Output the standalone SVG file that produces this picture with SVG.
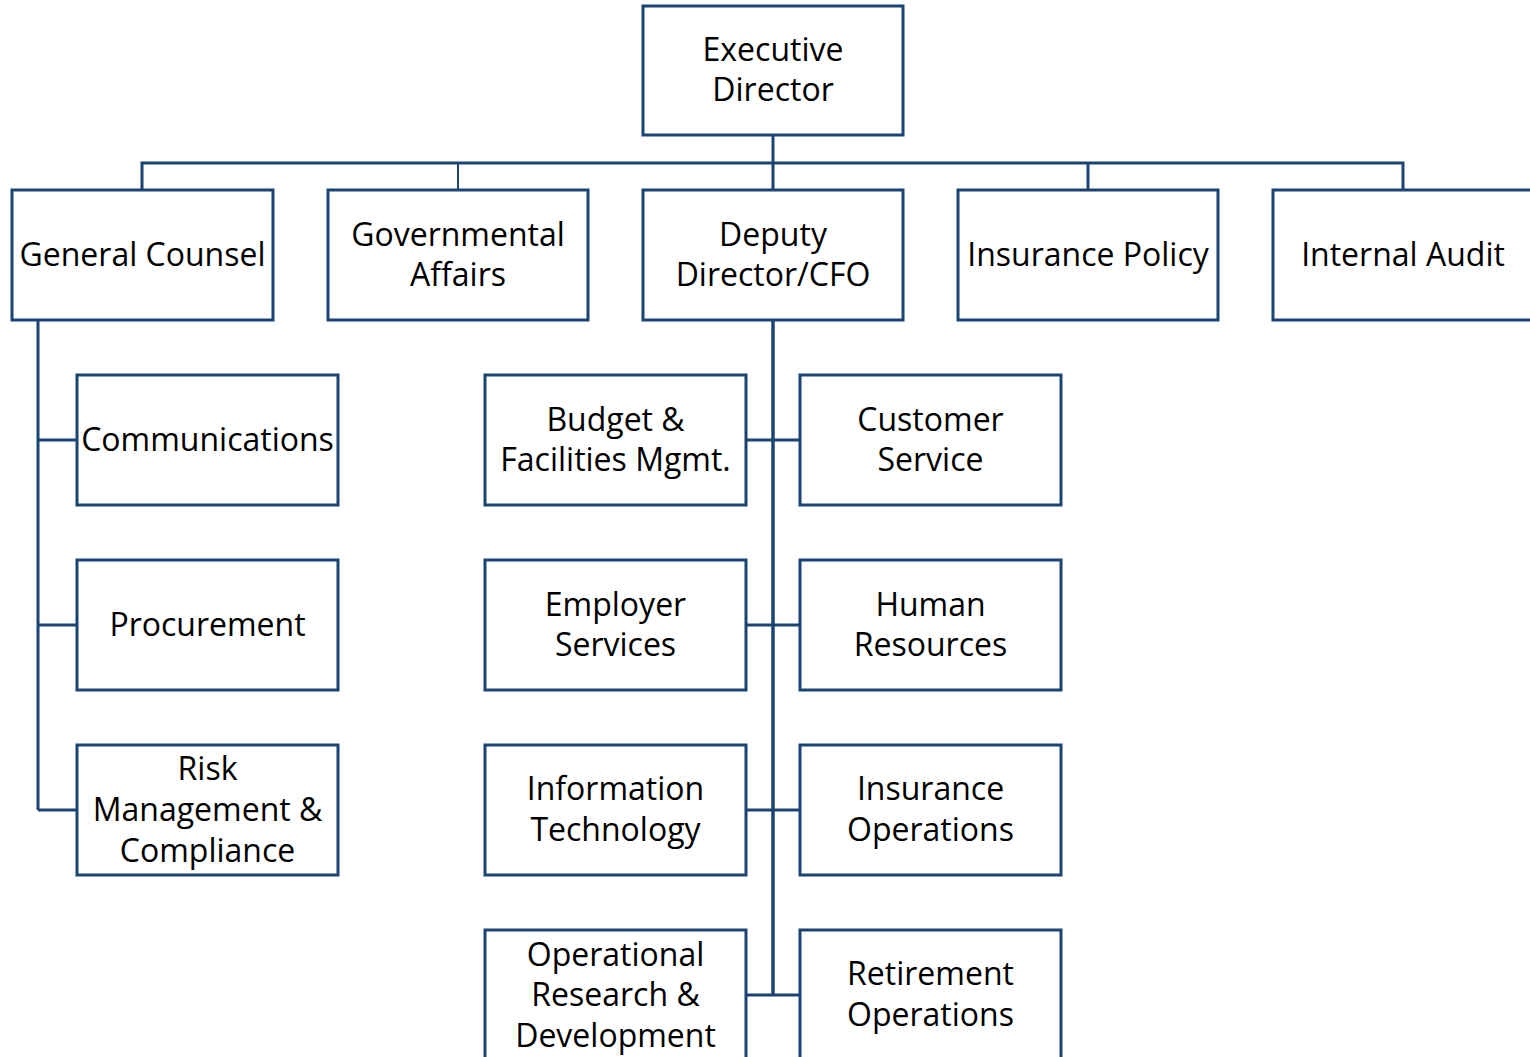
<svg xmlns="http://www.w3.org/2000/svg" width="1530" height="1057" viewBox="0 0 1530 1057">
<style>
.box{fill:#ffffff;stroke:#1b4473;stroke-width:3}
.con{fill:none;stroke:#1b4473;stroke-width:3}
.trunk{stroke-width:3.5}
text{font-family:"Open Sans","Noto Sans","Liberation Sans",sans-serif;font-size:32px;fill:#000;text-anchor:middle}
</style>
<rect width="1530" height="1057" fill="#ffffff"/>
<g id="connectors">
<path class="con" d="M773 135V190M142 190V163H1403V190M1088 163V190"/>
<path class="con" style="stroke-width:2" d="M458 163V190"/>
<path class="con" d="M38 320V810M38 440H77M38 625H77M38 810H77"/>
<path class="con" d="M746 440H800M746 625H800M746 810H800M746 995H800"/>
<path class="con trunk" d="M773 320V995"/>
</g>
<g id="executive-director"><rect class="box" x="643" y="6" width="260" height="129"/><text x="773" y="61">Executive</text><text x="773" y="101">Director</text></g>
<g id="general-counsel"><rect class="box" x="12" y="190" width="261" height="130"/><text x="142.5" y="266">General Counsel</text></g>
<g id="governmental-affairs"><rect class="box" x="328" y="190" width="260" height="130"/><text x="458" y="246">Governmental</text><text x="458" y="286">Affairs</text></g>
<g id="deputy-director"><rect class="box" x="643" y="190" width="260" height="130"/><text x="773" y="246">Deputy</text><text x="773" y="286">Director/CFO</text></g>
<g id="insurance-policy"><rect class="box" x="958" y="190" width="260" height="130"/><text x="1088" y="266">Insurance Policy</text></g>
<g id="internal-audit"><rect class="box" x="1273" y="190" width="262" height="130"/><text x="1403" y="266">Internal Audit</text></g>
<g id="communications"><rect class="box" x="77" y="375" width="261" height="130"/><text x="207.5" y="451">Communications</text></g>
<g id="procurement"><rect class="box" x="77" y="560" width="261" height="130"/><text x="207.5" y="636">Procurement</text></g>
<g id="risk-management"><rect class="box" x="77" y="745" width="261" height="130"/><text x="207.5" y="780">Risk</text><text x="207.5" y="821">Management &amp;</text><text x="207.5" y="862">Compliance</text></g>
<g id="budget-facilities"><rect class="box" x="485" y="375" width="261" height="130"/><text x="615.5" y="431">Budget &amp;</text><text x="615.5" y="471">Facilities Mgmt.</text></g>
<g id="customer-service"><rect class="box" x="800" y="375" width="261" height="130"/><text x="930.5" y="431">Customer</text><text x="930.5" y="471">Service</text></g>
<g id="employer-services"><rect class="box" x="485" y="560" width="261" height="130"/><text x="615.5" y="616">Employer</text><text x="615.5" y="656">Services</text></g>
<g id="human-resources"><rect class="box" x="800" y="560" width="261" height="130"/><text x="930.5" y="616">Human</text><text x="930.5" y="656">Resources</text></g>
<g id="information-technology"><rect class="box" x="485" y="745" width="261" height="130"/><text x="615.5" y="800">Information</text><text x="615.5" y="841">Technology</text></g>
<g id="insurance-operations"><rect class="box" x="800" y="745" width="261" height="130"/><text x="930.5" y="800">Insurance</text><text x="930.5" y="841">Operations</text></g>
<g id="operational-research"><rect class="box" x="485" y="930" width="261" height="140"/><text x="615.5" y="966">Operational</text><text x="615.5" y="1006">Research &amp;</text><text x="615.5" y="1047">Development</text></g>
<g id="retirement-operations"><rect class="box" x="800" y="930" width="261" height="140"/><text x="930.5" y="985">Retirement</text><text x="930.5" y="1026">Operations</text></g>
</svg>
